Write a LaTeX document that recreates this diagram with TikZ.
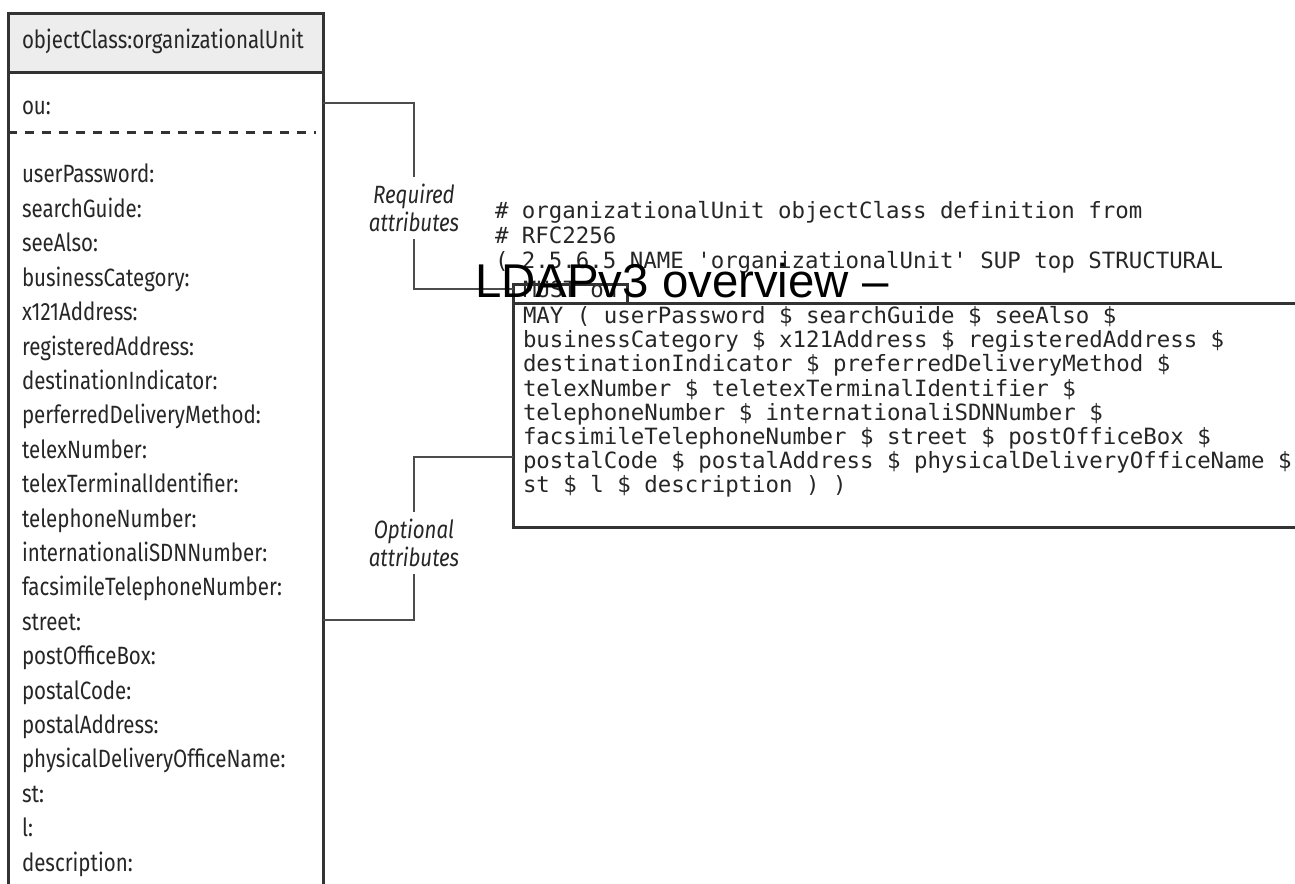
\documentclass[tikz,border=0pt]{standalone}
\usepackage{fontspec}
\newfontfamily\listfont{Fira Sans}[FakeStretch=0.82]
\newfontfamily\titlefont{Liberation Sans}
\setmonofont{DejaVu Sans Mono}

\begin{document}
\begin{tikzpicture}[x=0.5pt,y=-0.5pt,
  every node/.style={inner sep=0pt, outer sep=0pt},
  frame/.style={draw=black!80, line width=1.5pt},
  link/.style={draw=black!70, line width=1pt},
  attr/.style={anchor=west, text=black!85, text height=8.5pt, text depth=2.5pt,
    font=\listfont\fontsize{12.5}{14}\selectfont},
  note/.style={align=center, text=black!85, minimum height=31pt,
    font=\listfont\itshape\fontsize{12.5}{14}\selectfont},
  code/.style={anchor=west, text=black!85, text height=8pt, text depth=2.5pt,
    font=\ttfamily\fontsize{11.2}{12}\selectfont}]

\useasboundingbox (0,0) rectangle (1295,883);
\begin{scope}
\clip (0,0) rectangle (1295,883);

% class box
\fill[black!7] (8,14) rectangle (323,73);
\draw[frame] (8,900) -- (8,14) -- (323,14) -- (323,900);
\draw[frame] (8,73) -- (323,73);
\draw[black!80, line width=1.5pt, dash pattern=on 4.5pt off 4pt] (8,133) -- (316,133);

\node[attr] (class) at (22,43) {objectClass:organizationalUnit};
\node[attr] (ou) at (22,108) {ou:};
\foreach \name [count=\i from 0] in {userPassword, searchGuide, seeAlso,
    businessCategory, x121Address, registeredAddress, destinationIndicator,
    perferredDeliveryMethod, telexNumber, telexTerminalIdentifier,
    telephoneNumber, internationaliSDNNumber, facsimileTelephoneNumber,
    street, postOfficeBox, postalCode, postalAddress,
    physicalDeliveryOfficeName, st, l, description}
  \node[attr] (a\i) at (22,{177+34.4*\i}) {\name:};

% definition text
\node[code] (c1) at (495,213) {\# organizationalUnit objectClass definition from};
\node[code] (c2) at (495,238) {\# RFC2256};
\node[code] (c3) at (495,263) {( 2.5.6.5 NAME 'organizationalUnit' SUP top STRUCTURAL};
\node[code] (must) at (523,292) {MUST ou};
\draw[frame] (513,303) -- (513,284) -- (627,284) -- (627,303);
\draw[frame] (1400,303) -- (513,303) -- (513,527) -- (1400,527);
\foreach \line [count=\i from 0] in {MAY ( userPassword \$ searchGuide \$ seeAlso \$,
    businessCategory \$ x121Address \$ registeredAddress \$,
    destinationIndicator \$ preferredDeliveryMethod \$,
    telexNumber \$ teletexTerminalIdentifier \$,
    telephoneNumber \$ internationaliSDNNumber \$,
    facsimileTelephoneNumber \$ street \$ postOfficeBox \$,
    postalCode \$ postalAddress \$ physicalDeliveryOfficeName \$,
    st \$ l \$ description ) )}
  \node[code] (m\i) at (523,{318+24.2*\i}) {\line};

% brackets
\node[note] (req) at (414,208) {Required\\attributes};
\node[note] (opt) at (414,543) {Optional\\attributes};
\coordinate (req-in) at (323,103);
\coordinate (must-in) at (513,289);
\coordinate (may-in) at (513,457);
\coordinate (opt-in) at (323,620);
\draw[link] (req-in) -| (req.north);
\draw[link] (req.south) |- (must-in);
\draw[link] (may-in) -| (opt.north);
\draw[link] (opt.south) |- (opt-in);

\node[anchor=base west, font=\titlefont\fontsize{23.7}{26}\selectfont] (title)
  at (475,297) {LDAPv3 overview –};
\end{scope}
\end{tikzpicture}
\end{document}
